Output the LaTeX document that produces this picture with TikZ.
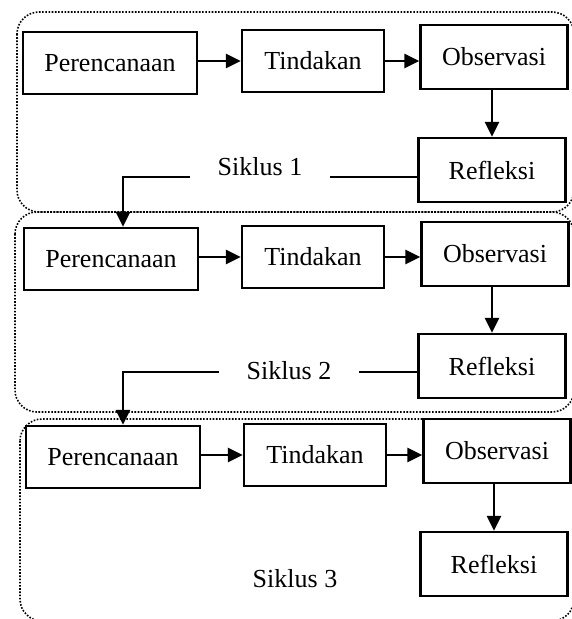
\documentclass[tikz,border=0pt]{standalone}
\usepackage{fontspec}
\setmainfont{Liberation Serif}
\usepackage{tikz}
\usetikzlibrary{arrows.meta,positioning,calc}
\tikzset{
  box/.style={draw=black, fill=white, line width=2.2pt, align=center, inner sep=4pt, minimum height=62pt, font=\fontsize{26}{30}\selectfont},
  planbox/.style={box, minimum width=174pt},
  actbox/.style={box, minimum width=142pt},
  obsbox/.style={box, minimum width=147pt, minimum height=64pt},
  cyclelabel/.style={inner sep=0pt, minimum width=140pt, font=\fontsize{26}{30}\selectfont},
  frame/.style={line width=1.6pt, dash pattern=on 1.6pt off 1.6pt, rounded corners=22pt},
  arrow/.style={-{Triangle[length=15pt,width=14pt]}, line width=2.8pt},
  plainline/.style={line width=2pt}
}
\begin{document}
\begin{tikzpicture}[x=1pt,y=-1pt]
\useasboundingbox (0,0) rectangle (571,619);
\draw[frame] (17,12) rectangle (574,212);
\draw[frame] (15,212) rectangle (574,412);
\draw[frame] (20,419) rectangle (574,621);

\node[planbox] (plan1) at (110,63) {Perencanaan};
\node[actbox] (act1) at (313,61) {Tindakan};
\node[obsbox] (obs1) at (494,57) {Observasi};
\node[obsbox] (refl1) at (492,170) {Refleksi};
\node[cyclelabel] (cyc1) at (260,167) {Siklus 1};
\coordinate (turn1) at (123,177);

\node[planbox] (plan2) at (111,259) {Perencanaan};
\node[actbox] (act2) at (313,257) {Tindakan};
\node[obsbox] (obs2) at (495,254) {Observasi};
\node[obsbox] (refl2) at (492,366) {Refleksi};
\node[cyclelabel] (cyc2) at (289,371) {Siklus 2};
\coordinate (turn2) at (123,372);

\node[planbox] (plan3) at (113,457) {Perencanaan};
\node[actbox] (act3) at (315,455) {Tindakan};
\node[obsbox] (obs3) at (497,451) {Observasi};
\node[obsbox] (refl3) at (494,564) {Refleksi};
\node[cyclelabel] (cyc3) at (295,579) {Siklus 3};

\draw[arrow] (plan1.east |- act1) -- (act1.west);
\draw[arrow] (act1.east) -- (act1.east -| obs1.west);
\draw[arrow] (refl1.north |- obs1.south) -- (refl1.north);
\draw[plainline] (refl1.west |- turn1) -- (cyc1.east |- turn1);
\draw[arrow] (cyc1.west |- turn1) -- (turn1) -- (turn1 |- plan2.north);

\draw[arrow] (plan2.east |- act2) -- (act2.west);
\draw[arrow] (act2.east) -- (act2.east -| obs2.west);
\draw[arrow] (refl2.north |- obs2.south) -- (refl2.north);
\draw[plainline] (refl2.west |- turn2) -- (cyc2.east |- turn2);
\draw[arrow] (cyc2.west |- turn2) -- (turn2) -- (turn2 |- plan3.north);

\draw[arrow] (plan3.east |- act3) -- (act3.west);
\draw[arrow] (act3.east) -- (act3.east -| obs3.west);
\draw[arrow] (refl3.north |- obs3.south) -- (refl3.north);
\end{tikzpicture}
\end{document}
